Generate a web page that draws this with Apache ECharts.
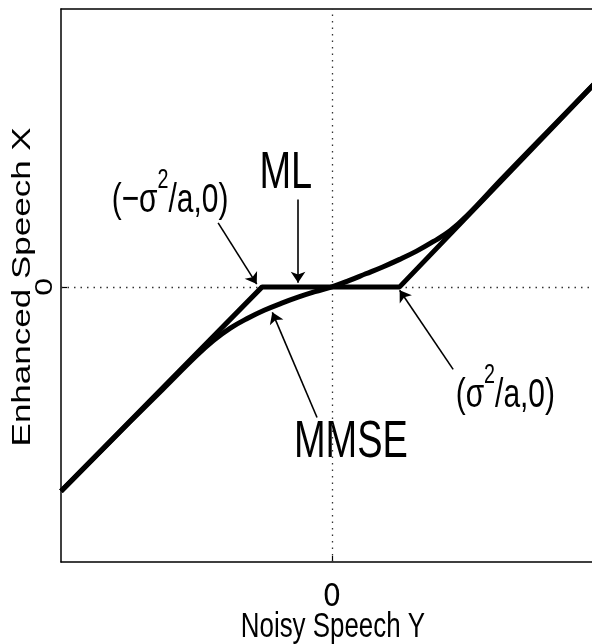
<!DOCTYPE html>
<html><head><meta charset="utf-8">
<script src="https://cdn.jsdelivr.net/npm/echarts@6/dist/echarts.min.js"></script>
<style>html,body{margin:0;padding:0;background:#fff}#c{width:592px;height:644px}</style>
</head><body><div id="c"></div>
<script>
// ---- data (Noisy Speech Y on x axis, Enhanced Speech X on y axis) ----
const mlY   = [-4, -1.03, 1.0, 4];
const mlX   = [-2.97, 0, 0, 3.08];
const mmseY = [-4, -3, -2.5, -2, -1.75, -1.5, -1.25, -1, -0.75, -0.5, -0.25, 0, 0.25, 0.5, 0.75, 1, 1.25, 1.5, 1.75, 2, 2.5, 3, 4];
const mmseX = [-2.97, -1.98, -1.49, -1.0, -0.78, -0.6, -0.46, -0.34, -0.24, -0.15, -0.07, 0, 0.09, 0.19, 0.29, 0.4, 0.52, 0.66, 0.82, 1.04, 1.56, 2.07, 3.08];
const xTicks = [0];
const yTicks = [0];
const xTickLabels = {0: '0'};
const yTickLabels = {0: '0'};
const xTitle = 'Noisy Speech Y';
const yTitle = 'Enhanced Speech X';
// annotation arrows (data coords): from -> to
const arrowFrom = [[-1.68, 0.93], [-0.50, 1.27], [-0.22, -1.90], [1.79, -1.20]];
const arrowTo   = [[-1.11, 0.04], [-0.50, 0.06], [-0.88, -0.37], [1.00, -0.05]];
// annotation labels: [before superscript, superscript, after superscript]
const annoParts = [['(−σ', '2', '/a,0)'], ['ML', '', ''], ['MMSE', '', ''], ['(σ', '2', '/a,0)']];
const annoAt    = [[-2.39, 1.26], [-0.68, 1.65], [0.28, -2.27], [2.56, -1.58]];

const FF = "'Liberation Sans', Arial, Helvetica, sans-serif";
const SX = 0.73;

const chart = echarts.init(document.getElementById('c'));
const zip = (a, b) => a.map((v, i) => [v, b[i]]);
const dotted = {type: [1.5, 5], color: '#333', width: 1.3};
chart.setOption({
  animation: false,
  backgroundColor: '#fff',
  grid: {left: 61, right: 0, top: 9, bottom: 82},
  xAxis: [{
    type: 'value', min: -4, max: 3.84, position: 'bottom',
    axisLine: {show: true, onZero: false, lineStyle: {color: '#000', width: 1.5}},
    axisTick: {show: true, inside: true, length: 6, customValues: xTicks, lineStyle: {color: '#000', width: 1.2}},
    splitLine: {show: false},
    axisLabel: {show: true, margin: 20, customValues: xTicks, fontFamily: "'Liberation Sans Narrow', 'DejaVu Sans Condensed', sans-serif", fontSize: 32, color: '#000',
      formatter: v => xTickLabels[v] || ''}
  }, {
    type: 'value', min: -4, max: 3.84, position: 'top',
    axisLine: {show: true, onZero: false, lineStyle: {color: '#000', width: 1.5}},
    axisTick: {show: false}, axisLabel: {show: false}, splitLine: {show: false}
  }],
  yAxis: {
    type: 'value', min: -4, max: 4.04,
    axisLine: {show: true, onZero: false, lineStyle: {color: '#000', width: 1.5}},
    axisTick: {show: true, inside: true, length: 6, customValues: yTicks, lineStyle: {color: '#000', width: 1.2}},
    splitLine: {show: false},
    axisLabel: {show: false}
  },
  series: [
    {type: 'line', name: 'zero', data: [], z: 1,
      markLine: {silent: true, z: 1, symbol: ['none', 'none'], animation: false, label: {show: false},
        lineStyle: dotted,
        data: xTicks.map(v => ({xAxis: v})).concat(yTicks.map(v => ({yAxis: v})))}},
    {type: 'line', name: 'ML', data: zip(mlY, mlX), showSymbol: false, symbol: 'none',
      lineStyle: {color: '#000', width: 5}, z: 3,
      markLine: {silent: true, z: 4, symbol: ['none', 'arrow'], symbolSize: 11, animation: false,
        label: {show: false}, lineStyle: {color: '#000', width: 1.6, type: 'solid'},
        data: arrowFrom.map((f, i) => [{coord: f}, {coord: arrowTo[i]}])}},
    {type: 'line', name: 'MMSE', data: zip(mmseY, mmseX), showSymbol: false, symbol: 'none', smooth: 0.4,
      lineStyle: {color: '#000', width: 5}, z: 3}
  ]
});

const px = p => chart.convertToPixel({gridIndex: 0}, p);
const ctx = document.createElement('canvas').getContext('2d');
const tw = (s, f) => { ctx.font = f; return ctx.measureText(s).width; };
const g = [];
annoParts.forEach((parts, i) => {
  const p = px(annoAt[i]);
  const isBig = parts[1] === '';
  const fMain = (isBig ? '52px ' : '41px ') + FF;
  const fSup = '27px ' + FF;
  const w0 = tw(parts[0], fMain), w1 = parts[1] ? tw(parts[1], fSup) : 0, w2 = parts[2] ? tw(parts[2], fMain) : 0;
  const total = w0 + w1 + w2;
  const x0 = -total / 2;
  const children = [
    {type: 'text', x: x0, y: 0, style: {text: parts[0], font: fMain, fill: '#000', align: 'left', verticalAlign: 'middle', textAlign: 'left', textVerticalAlign: 'middle'}}
  ];
  if (parts[1]) {
    children.push({type: 'text', x: x0 + w0, y: -20, style: {text: parts[1], font: fSup, fill: '#000', align: 'left', verticalAlign: 'middle', textAlign: 'left', textVerticalAlign: 'middle'}});
    children.push({type: 'text', x: x0 + w0 + w1, y: 0, style: {text: parts[2], font: fMain, fill: '#000', align: 'left', verticalAlign: 'middle', textAlign: 'left', textVerticalAlign: 'middle'}});
  }
  g.push({type: 'group', x: p[0], y: p[1], scaleX: SX, silent: true, children});
});
// y tick label (rotated like the reference)
yTicks.forEach(v => {
  const p = px([0, v]);
  g.push({type: 'text', x: 45, y: p[1], rotation: Math.PI / 2, scaleY: 0.74, silent: true,
    style: {text: yTickLabels[v], font: '32px ' + FF, fill: '#000', align: 'center', verticalAlign: 'middle', textAlign: 'center', textVerticalAlign: 'middle'}});
});
// axis titles
const c0 = px([0, 0]);
g.push({type: 'text', x: c0[0] + 1, y: 627, scaleX: 0.74, silent: true,
  style: {text: xTitle, font: '35px ' + FF, fill: '#000', align: 'center', verticalAlign: 'middle', textAlign: 'center', textVerticalAlign: 'middle'}});
g.push({type: 'text', x: 23, y: c0[1], rotation: Math.PI / 2, scaleY: 0.74, silent: true,
  style: {text: yTitle, font: '35px ' + FF, fill: '#000', align: 'center', verticalAlign: 'middle', textAlign: 'center', textVerticalAlign: 'middle'}});
chart.setOption({graphic: g});
</script></body></html>
